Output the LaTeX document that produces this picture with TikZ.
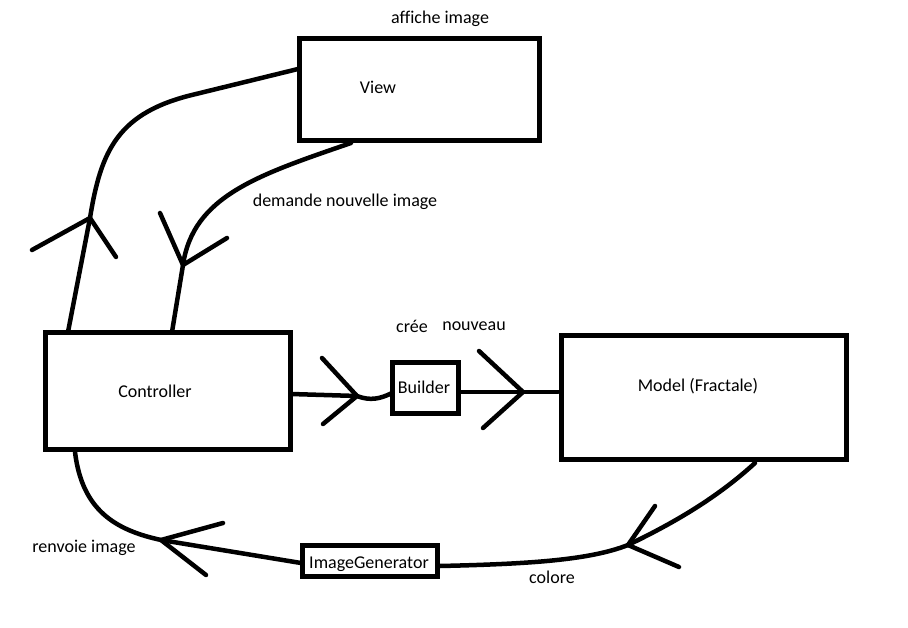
\documentclass[tikz,border=0pt]{standalone}
\usepackage{fontspec}
\setmainfont[Ligatures=NoCommon]{Carlito}
\begin{document}
\begin{tikzpicture}[x=1pt,y=-1pt,
  conn/.style={line width=4.5pt, line cap=round, line join=round},
  box/.style={draw, line width=5pt, rectangle, inner sep=0pt},
  lbl/.style={font=\fontsize{18}{20}\selectfont, inner sep=0pt, anchor=center}]
\useasboundingbox (0,0) rectangle (908,628);
\fill[white] (0,0) rectangle (908,628);

% boxes
\node[box, minimum width=240pt, minimum height=102pt] (view) at (419,90) {};
\node[box, minimum width=245pt, minimum height=117pt] (ctrl) at (168,391) {};
\node[box, minimum width=66pt, minimum height=50pt] (builder) at (425.5,388) {};
\node[box, minimum width=285pt, minimum height=124pt] (model) at (703.5,397.5) {};
\node[box, minimum width=135pt, minimum height=31pt] (imggen) at (370,561) {};

% texts
\node[lbl] (tview) at (378,87) {View};
\node[lbl] (tctrl) at (155,391) {Controller};
\node[lbl] (tbuilder) at (424,387) {Builder};
\node[lbl] (tmodel) at (698,386) {Model (Fractale)};
\node[lbl] (timg) at (369,564) {ImageGenerator};
\node[lbl] (laff) at (440,19) {affiche image};
\node[lbl] (ldem) at (345,202) {demande nouvelle image};
\node[lbl] (lcree) at (412,326) {crée};
\node[lbl] (lnouv) at (474,326) {nouveau};
\node[lbl] (lrenv) at (84,548) {renvoie image};
\node[lbl] (lcol) at (552,577) {colore};

% coordinates
\coordinate (c1) at (68,332);
\coordinate (t1) at (90,218);
\coordinate (v1) at (298,69);
\coordinate (v2) at (351,143);
\coordinate (t2) at (183,265);
\coordinate (c2) at (172,332);
\coordinate (c3) at (291,394);
\coordinate (t3) at (357,396);
\coordinate (b1) at (392,393);
\coordinate (b2) at (459,392);
\coordinate (t4) at (523,392);
\coordinate (m1) at (558,392);
\coordinate (m2) at (755,463);
\coordinate (t5) at (628,545);
\coordinate (g1) at (440,566);
\coordinate (g2) at (301,563);
\coordinate (t6) at (161,540);
\coordinate (c4) at (75,452);

% Controller -> View (affiche image)
\draw[conn] (c1) -- (t1) .. controls (101,150) and (118,112) .. (196,94) -- (v1);
\draw[conn] (32,250) -- (t1) -- (116,257);

% View -> Controller (demande nouvelle image)
\draw[conn] (v2) .. controls (258,175) and (193,196) .. (t2) -- (c2);
\draw[conn] (160,213) -- (t2) -- (227,238);

% Controller -> Builder
\draw[conn] (c3) -- (t3) .. controls (370,401) and (380,399) .. (b1);
\draw[conn] (322,358) -- (t3) -- (323,424);

% Builder -> Model
\draw[conn] (b2) -- (t4) -- (m1);
\draw[conn] (479,351) -- (t4) -- (483,428);

% Model -> ImageGenerator (colore)
\draw[conn] (m2) .. controls (720,495) and (680,520) .. (t5) .. controls (590,560) and (530,564) .. (g1);
\draw[conn] (655,506) -- (t5) -- (679,567);

% ImageGenerator -> Controller (renvoie image)
\draw[conn] (g2) -- (t6) .. controls (115,530) and (82,510) .. (c4);
\draw[conn] (223,523) -- (t6) -- (206,575);
\end{tikzpicture}
\end{document}
